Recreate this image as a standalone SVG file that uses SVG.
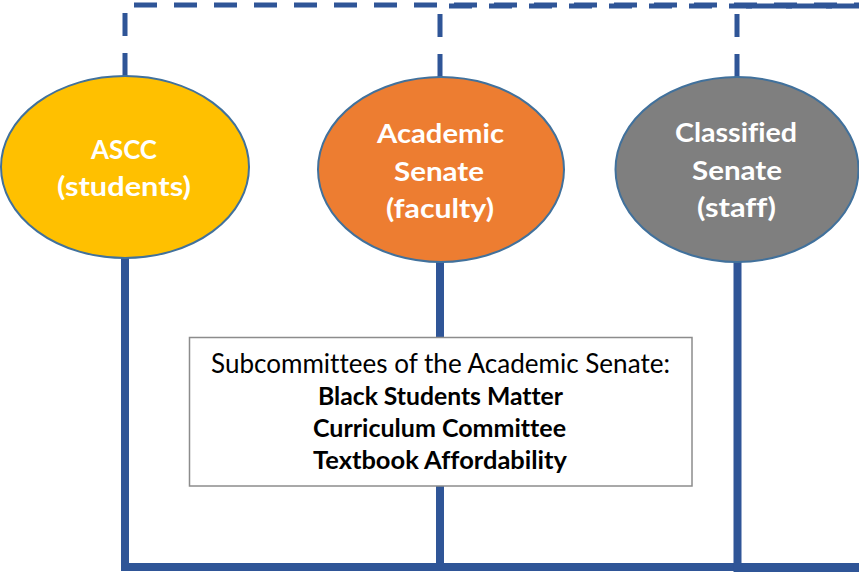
<svg xmlns="http://www.w3.org/2000/svg" width="859" height="576" viewBox="0 0 859 576">
  <style>
    .dash { fill: none; stroke: #2F5597; stroke-width: 5; stroke-dasharray: 23 17; }
    .solid { fill: none; stroke: #2F5597; stroke-width: 8; stroke-linejoin: miter; }
    .node { stroke: #41719C; stroke-width: 2; }
    text { font-variant-ligatures: none; }
    .lbl { font-family: Lato, "Open Sans", sans-serif; font-weight: bold; font-size: 27px; fill: #FFFFFF; text-anchor: middle; }
    .box { fill: #FFFFFF; stroke: #8C8C8C; stroke-width: 1.5; }
    .reg { font-family: Lato, "Open Sans", sans-serif; font-size: 26px; fill: #000000; text-anchor: middle; }
    .bld { font-family: Lato, "Open Sans", sans-serif; font-weight: bold; font-size: 24px; fill: #000000; text-anchor: middle; }
  </style>
  <rect width="859" height="576" fill="#FFFFFF"/>
  <g id="connectors">
    <path class="dash" d="M125,76 V5 H859"/>
    <path class="dash" d="M440,77 V6 H859"/>
    <path class="dash" d="M737,77 V6 H859"/>
    <path class="solid" d="M125,258 V567 H859"/>
    <path class="solid" d="M440,262 V567 H859"/>
    <path class="solid" d="M737.5,262 V568 H859"/>
  </g>
  <g id="ascc">
    <ellipse class="node" cx="125" cy="167" rx="124" ry="91" fill="#FFC000"/>
    <text class="lbl" x="124" y="159" textLength="66" lengthAdjust="spacingAndGlyphs">ASCC</text>
    <text class="lbl" x="124" y="196" textLength="134" lengthAdjust="spacingAndGlyphs">(students)</text>
  </g>
  <g id="academic-senate">
    <ellipse class="node" cx="441" cy="169.5" rx="123" ry="92.5" fill="#ED7D31"/>
    <text class="lbl" x="440.5" y="143" textLength="127" lengthAdjust="spacingAndGlyphs">Academic</text>
    <text class="lbl" x="439" y="181" textLength="90" lengthAdjust="spacingAndGlyphs">Senate</text>
    <text class="lbl" x="440" y="218" textLength="108" lengthAdjust="spacingAndGlyphs">(faculty)</text>
  </g>
  <g id="classified-senate">
    <ellipse class="node" cx="737" cy="169.5" rx="121.5" ry="92.5" fill="#7F7F7F"/>
    <text class="lbl" x="736" y="142" textLength="122" lengthAdjust="spacingAndGlyphs">Classified</text>
    <text class="lbl" x="737" y="180" textLength="90" lengthAdjust="spacingAndGlyphs">Senate</text>
    <text class="lbl" x="736.5" y="217" textLength="79" lengthAdjust="spacingAndGlyphs">(staff)</text>
  </g>
  <g id="subcommittees">
    <rect class="box" x="189.5" y="337.5" width="502.5" height="148.5"/>
    <text class="reg" x="440.5" y="373" textLength="459" lengthAdjust="spacingAndGlyphs">Subcommittees of the Academic Senate:</text>
    <text class="bld" x="440.5" y="405" textLength="245" lengthAdjust="spacingAndGlyphs">Black Students Matter</text>
    <text class="bld" x="439.5" y="437" textLength="253" lengthAdjust="spacingAndGlyphs">Curriculum Committee</text>
    <text class="bld" x="440" y="469" textLength="254" lengthAdjust="spacingAndGlyphs">Textbook Affordability</text>
  </g>
</svg>
